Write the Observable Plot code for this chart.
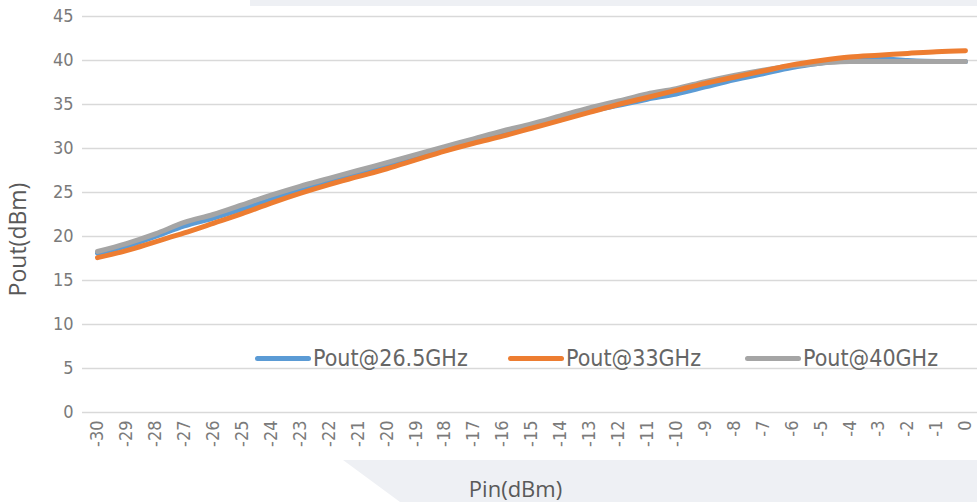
<!DOCTYPE html>
<html>
<head>
<meta charset="utf-8">
<script src="https://cdn.jsdelivr.net/npm/d3@7"></script>
<script src="https://cdn.jsdelivr.net/npm/@observablehq/plot@0.6"></script>
<style>
  html, body { margin: 0; padding: 0; background: #fff; }
  #wrap { position: relative; width: 977px; height: 502px; overflow: hidden; background: #fff; }
  .deco-top { position: absolute; left: 250px; top: 0; width: 727px; height: 6px; background: #eef0f4; }
  .deco-bot { position: absolute; left: 0; top: 460px; width: 977px; height: 42px; background: #eef0f4;
              clip-path: polygon(343px 0, 977px 0, 977px 42px, 400px 42px); }
  #chart { position: absolute; left: 0; top: 0; }
  .legend { position: absolute; top: 343px; left: 0; width: 977px; height: 30px;
            font-family: "Liberation Sans Narrow", "DejaVu Sans Condensed", Roboto, sans-serif;
            font-size: 23px; color: #666; }
  .item { position: absolute; top: 0; display: flex; align-items: center; height: 30px; }
  .sw { width: 56px; height: 5px; border-radius: 3px; margin-right: 2px; }
</style>
</head>
<body>
<div id="wrap">
  <div class="deco-top"></div>
  <div class="deco-bot"></div>
  <div id="chart"></div>
  <div class="legend" id="legend"></div>
</div>
<script>
const pin = [-30,-29,-28,-27,-26,-25,-24,-23,-22,-21,-20,-19,-18,-17,-16,-15,-14,-13,-12,-11,-10,-9,-8,-7,-6,-5,-4,-3,-2,-1,0];
const pout26_5 = [18.1,18.9,20.0,21.2,22.1,23.1,24.2,25.2,26.2,27.1,28.0,29.0,29.9,30.8,31.7,32.5,33.3,34.2,34.9,35.6,36.2,37.0,37.8,38.5,39.2,39.7,40.1,40.2,40.0,39.9,39.9];
const pout33   = [17.6,18.4,19.4,20.4,21.5,22.6,23.8,24.9,25.9,26.8,27.7,28.7,29.7,30.6,31.4,32.3,33.2,34.1,35.0,35.8,36.6,37.4,38.1,38.8,39.5,40.0,40.4,40.6,40.8,41.0,41.1];
const pout40   = [18.3,19.2,20.3,21.6,22.5,23.6,24.7,25.7,26.6,27.5,28.4,29.3,30.2,31.1,32.0,32.8,33.7,34.6,35.4,36.2,36.8,37.6,38.3,38.9,39.4,39.7,39.9,39.9,39.9,39.9,39.9];
const seriesNames = ["Pout@26.5GHz", "Pout@33GHz", "Pout@40GHz"];
const seriesColors = ["#5B9BD5", "#ED7D31", "#A5A5A5"];
const yTicks = [0,5,10,15,20,25,30,35,40,45];

const seriesValues = [pout26_5, pout33, pout40];
const data = [];
seriesValues.forEach((vals, i) => vals.forEach((v, j) => data.push({pin: pin[j], pout: v, series: seriesNames[i]})));
// draw order: blue, gray, orange
const drawOrder = [0, 2, 1];

const tickFont = '"Liberation Sans Narrow", "DejaVu Sans Condensed", Roboto, sans-serif';
const titleFont = '"Open Sans", "Noto Sans", sans-serif';

const chart = Plot.plot({
  width: 977,
  height: 502,
  marginTop: 16,
  marginBottom: 90,
  marginLeft: 97,
  marginRight: 12,
  style: {background: "transparent", overflow: "visible"},
  x: {domain: [-30, 0]},
  y: {domain: [0, 45]},
  color: {domain: seriesNames, range: seriesColors},
  marks: [
    Plot.ruleY(yTicks, {stroke: "#d9d9d9", strokeWidth: 1.5, insetLeft: -15, insetRight: -14}),
    Plot.axisY(yTicks, {tickSize: 0, tickPadding: 24, label: null, fontSize: 18, fill: "#7a7a7a",
      fontFamily: tickFont, tickFormat: d => String(d)}),
    Plot.axisX(pin, {tickSize: 0, tickPadding: 8, tickRotate: -90, label: null, fontSize: 18, fill: "#7a7a7a",
      fontFamily: tickFont, tickFormat: d => String(d)}),
    ...drawOrder.map(i => Plot.line(data.filter(d => d.series === seriesNames[i]), {
      x: "pin", y: "pout", stroke: "series", strokeWidth: 5, curve: "monotone-x",
      strokeLinecap: "round", strokeLinejoin: "round"
    })),
    Plot.text(["Pout(dBm)"], {frameAnchor: "left", textAnchor: "middle", dx: -79, dy: 25, rotate: -90, fontSize: 23,
      fill: "#595959", fontFamily: titleFont}),
    Plot.text(["Pin(dBm)"], {frameAnchor: "bottom", dx: -16, dy: 84, fontSize: 22,
      fill: "#595959", fontFamily: titleFont})
  ]
});
document.getElementById("chart").appendChild(chart);

const legendLefts = [255, 508, 745];
const legend = document.getElementById("legend");
seriesNames.forEach((name, i) => {
  const item = document.createElement("div");
  item.className = "item";
  item.style.left = legendLefts[i] + "px";
  const sw = document.createElement("div");
  sw.className = "sw";
  sw.style.background = seriesColors[i];
  const t = document.createElement("span");
  t.textContent = name;
  item.appendChild(sw);
  item.appendChild(t);
  legend.appendChild(item);
});
</script>
</body>
</html>
